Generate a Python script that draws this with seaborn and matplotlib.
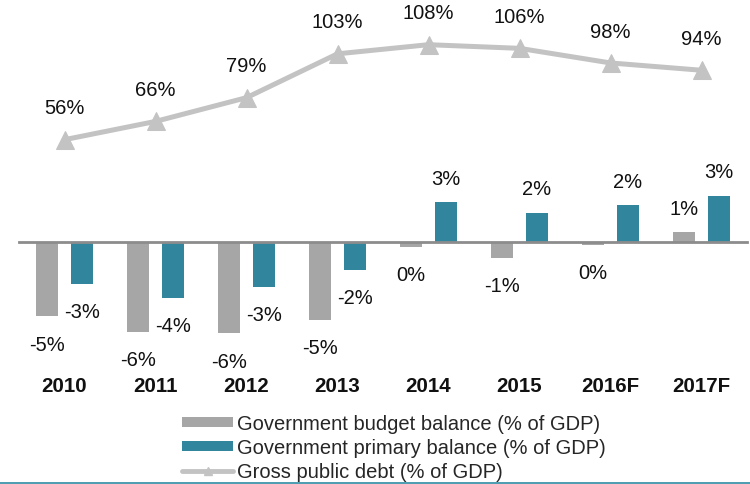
import numpy as np
import pandas as pd
import matplotlib
matplotlib.use("Agg")
import matplotlib.pyplot as plt
import matplotlib.transforms as mtransforms
from matplotlib.lines import Line2D
from matplotlib.patches import Patch
import seaborn as sns

# Fiscal indicators, % of GDP
years = ["2010", "2011", "2012", "2013", "2014", "2015", "2016F", "2017F"]
budget_balance = [-4.8, -5.8, -5.9, -5.0, -0.3, -1.0, -0.2, 0.65]
primary_balance = [-2.7, -3.6, -2.9, -1.8, 2.6, 1.9, 2.4, 3.0]
public_debt = [56, 66, 79, 103, 108, 106, 98, 94]

series_names = [
    "Government budget balance (% of GDP)",
    "Government primary balance (% of GDP)",
    "Gross public debt (% of GDP)",
]

GRAY = "#a6a6a6"
TEAL = "#31859c"
LINE = "#c3c3c3"
AXIS = "#8c8c8c"
FS = 14.5

sns.set_style("white")
plt.rcParams["font.family"] = ["Liberation Sans", "DejaVu Sans"]

bars = pd.DataFrame({
    "year": years * 2,
    "value": budget_balance + primary_balance,
    "series": [series_names[0]] * len(years) + [series_names[1]] * len(years),
})

W, H = 750, 485
fig = plt.figure(figsize=(W / 100, H / 100), dpi=100)
ax = fig.add_axes([19 / W, 1 - 370 / H, 728 / W, 370 / H])

sns.barplot(data=bars, x="year", y="value", hue="series",
            palette=[GRAY, TEAL], saturation=1, width=0.77, gap=0.37,
            edgecolor="none", legend=False, ax=ax, errorbar=None)

ax.set_xlim(-0.5, len(years) - 0.5)
ax.set_ylim(-127 / 15.5, 243 / 15.5)
ax.set_xlabel("")
ax.set_ylabel("")
ax.set_yticks([])
for side in ("left", "right", "top"):
    ax.spines[side].set_visible(False)
ax.spines["bottom"].set_position(("data", 0))
ax.spines["bottom"].set_color(AXIS)
ax.spines["bottom"].set_linewidth(2)
ax.set_xticks(np.arange(len(years) + 1) - 0.5)
ax.tick_params(axis="x", length=5, width=2, color=AXIS,
               direction="out", labelbottom=False)

# category labels below the plot area
trans = mtransforms.blended_transform_factory(ax.transData, ax.transAxes)
for i, yr in enumerate(years):
    ax.text(i, -17 / 370, yr, transform=trans, ha="center", va="center",
            fontsize=14.8, fontweight="bold", color="#111111")

# value labels on bars
for container in ax.containers:
    for bar in container:
        v = bar.get_height()
        x = bar.get_x() + bar.get_width() / 2
        off = 17 if v > 0 else -20
        ax.annotate(f"{round(v)}%", (x, v), xytext=(0, off),
                    textcoords="offset points", ha="center", va="center",
                    fontsize=FS, color="#111111")

# debt on a secondary scale
ax2 = ax.twinx()
sns.lineplot(x=years, y=public_debt, ax=ax2, color=LINE, linewidth=3.6,
             marker="^", markersize=13, markeredgecolor=LINE, sort=False)
ax2.set_ylim(-127 / 1.827, 243 / 1.827)
ax2.set_yticks([])
ax2.set_ylabel("")
for side in ax2.spines:
    ax2.spines[side].set_visible(False)
for i, v in enumerate(public_debt):
    ax2.annotate(f"{v}%", (i, v), xytext=(0, 23), textcoords="offset points",
                 ha="center", va="center", fontsize=FS, color="#111111")

handles = [
    Patch(facecolor=GRAY, edgecolor="none"),
    Patch(facecolor=TEAL, edgecolor="none"),
    Line2D([], [], color=LINE, lw=3.5, marker="^", markersize=6),
]
fig.legend(handles, series_names, loc="upper left",
           bbox_to_anchor=(182 / W, 1 - 415 / H), frameon=False,
           fontsize=FS, handlelength=2.55, handleheight=0.37,
           handletextpad=0.2, labelspacing=0.25, borderpad=0,
           borderaxespad=0)

fig.add_artist(Line2D([0, 1], [1.2 / H, 1.2 / H], transform=fig.transFigure,
                      color="#2e8ba3", lw=1.2))

fig.savefig("out.png", dpi=100)
